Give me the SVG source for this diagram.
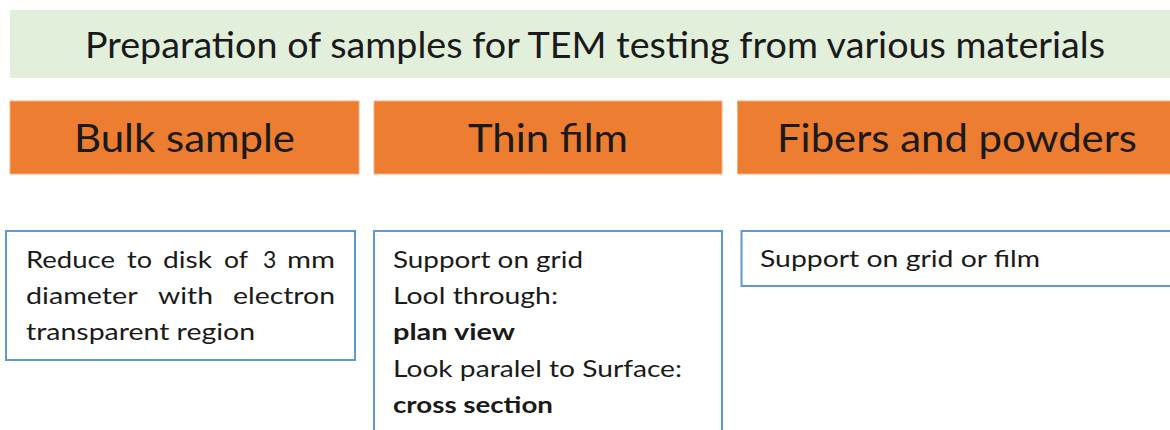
<svg xmlns="http://www.w3.org/2000/svg" width="1170" height="430" viewBox="0 0 1170 430">
  <style>
    .banner { fill: #e2efda; }
    .head { fill: #ed7d31; stroke: #f4b183; stroke-width: 1; }
    .card { fill: #ffffff; stroke: #5b9bd5; stroke-width: 2; }
    text { font-family: Lato, "Open Sans", "Liberation Sans", sans-serif; fill: #1a1a1a; }
    .title { font-size: 36px; }
    .htext { font-size: 38px; }
    .body { font-size: 23px; }
    .b { font-weight: bold; }
  </style>

  <rect width="1170" height="430" fill="#ffffff"/>

  <g id="title">
    <rect class="banner" x="10" y="10" width="1170" height="68"/>
    <text class="title" x="85" y="58" textLength="1020" lengthAdjust="spacingAndGlyphs">Preparation of samples for TEM testing from various materials</text>
  </g>

  <g id="bulk-sample">
    <rect class="head" x="10" y="101" width="349" height="73"/>
    <text class="htext" x="74" y="152" textLength="221" lengthAdjust="spacingAndGlyphs">Bulk sample</text>
  </g>

  <g id="thin-film">
    <rect class="head" x="374" y="101" width="348" height="73"/>
    <text class="htext" x="468" y="152" textLength="160" lengthAdjust="spacingAndGlyphs">Thin film</text>
  </g>

  <g id="fibers-powders">
    <rect class="head" x="737.5" y="101" width="440" height="73"/>
    <text class="htext" x="777" y="152" textLength="360" lengthAdjust="spacingAndGlyphs">Fibers and powders</text>
  </g>

  <g id="bulk-detail">
    <rect class="card" x="6" y="231" width="349" height="129"/>
    <!-- justified paragraph: words placed one by one -->
    <text class="body" y="268">
      <tspan x="26" textLength="89" lengthAdjust="spacingAndGlyphs">Reduce</tspan>
      <tspan x="127" textLength="25" lengthAdjust="spacingAndGlyphs">to</tspan>
      <tspan x="163" textLength="49" lengthAdjust="spacingAndGlyphs">disk</tspan>
      <tspan x="224" textLength="24" lengthAdjust="spacingAndGlyphs">of</tspan>
    </text>
    <text x="263" y="268" font-family="'Liberation Sans', Arial, sans-serif" font-size="23">3</text>
    <text class="body" x="287" y="268" textLength="48" lengthAdjust="spacingAndGlyphs">mm</text>
    <text class="body" y="304">
      <tspan x="26" textLength="111" lengthAdjust="spacingAndGlyphs">diameter</tspan>
      <tspan x="158" textLength="55" lengthAdjust="spacingAndGlyphs">with</tspan>
      <tspan x="233" textLength="102" lengthAdjust="spacingAndGlyphs">electron</tspan>
    </text>
    <text class="body" x="26" y="340" textLength="229" lengthAdjust="spacingAndGlyphs">transparent region</text>
  </g>

  <g id="thin-film-detail">
    <rect class="card" x="374" y="231" width="348" height="210"/>
    <text class="body" x="393" y="268" textLength="190" lengthAdjust="spacingAndGlyphs">Support on grid</text>
    <text class="body" x="393" y="304" textLength="165" lengthAdjust="spacingAndGlyphs">Lool through:</text>
    <text class="body b" x="393" y="340" textLength="122" lengthAdjust="spacingAndGlyphs">plan view</text>
    <text class="body" x="393" y="377" textLength="289" lengthAdjust="spacingAndGlyphs">Look paralel to Surface:</text>
    <text class="body b" x="393" y="413" textLength="160" lengthAdjust="spacingAndGlyphs">cross section</text>
  </g>

  <g id="fibers-detail">
    <rect class="card" x="741.5" y="231" width="440" height="55"/>
    <text class="body" x="760" y="267" textLength="280" lengthAdjust="spacingAndGlyphs">Support on grid or film</text>
  </g>

  <g id="connectors"/>
</svg>
